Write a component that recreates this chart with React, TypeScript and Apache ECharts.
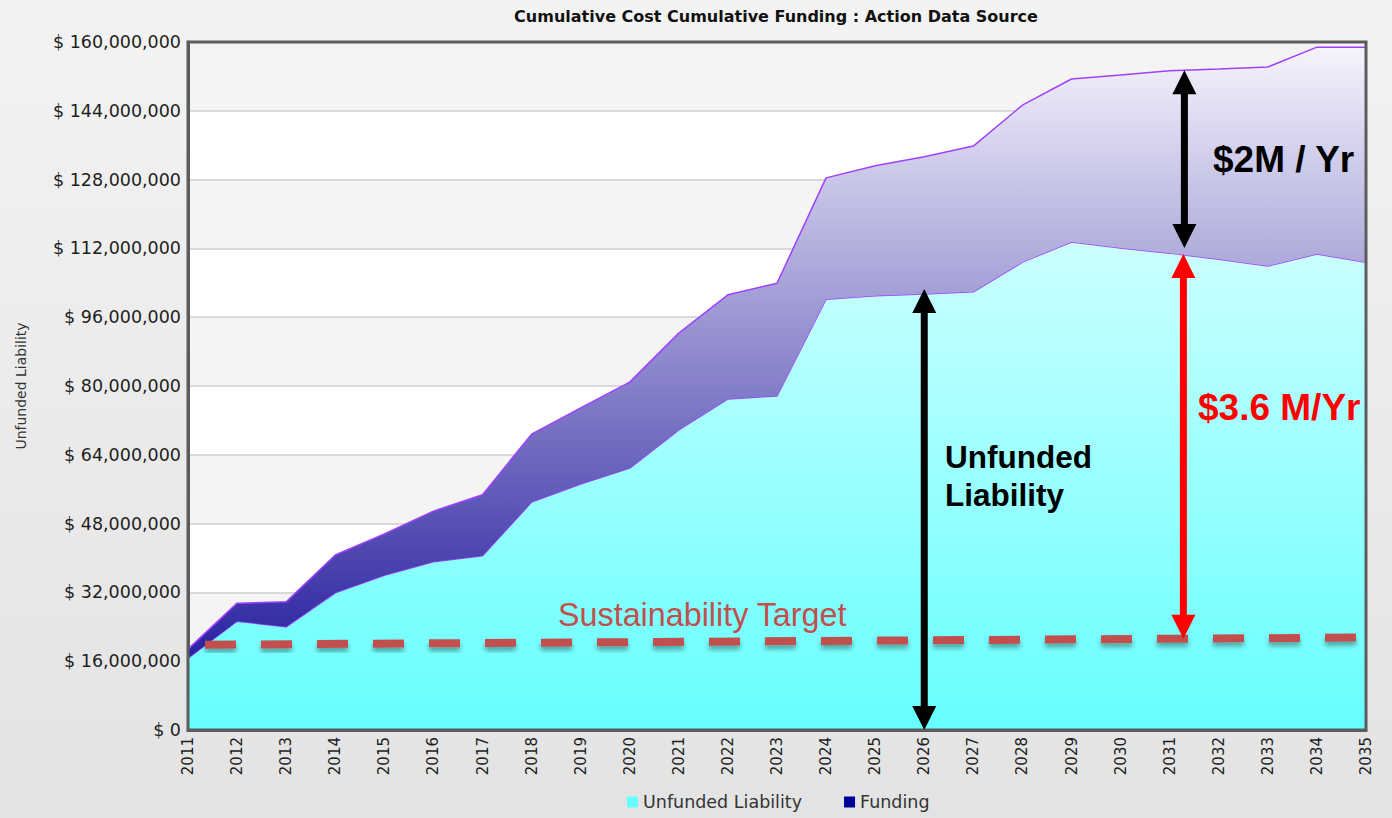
import React, { useEffect, useRef } from 'react';
import * as echarts from 'echarts';

// ---- data (values in millions of dollars) ----
const years = [
  '2011', '2012', '2013', '2014', '2015', '2016', '2017', '2018', '2019', '2020',
  '2021', '2022', '2023', '2024', '2025', '2026', '2027', '2028', '2029', '2030',
  '2031', '2032', '2033', '2034', '2035',
];
const unfundedLiability = [
  16.7, 25.3, 24.0, 31.9, 36.0, 39.1, 40.5, 53.0, 57.2, 60.9,
  69.8, 77.0, 77.7, 100.2, 101.0, 101.4, 101.9, 108.8, 113.5, 112.1,
  110.9, 109.5, 107.9, 110.7, 108.8,
];
const funding = [
  2.1, 4.2, 5.8, 8.8, 9.6, 11.8, 14.2, 15.8, 17.7, 20.0,
  22.5, 24.2, 26.2, 28.2, 30.2, 31.9, 33.9, 36.5, 37.9, 40.2,
  42.4, 44.2, 46.3, 48.1, 50.0,
];
const sustainabilityTarget = [19.8, 21.5]; // start (2011) and end (2035)
const yMax = 160;
const yStep = 16;

const MILLION = 1e6;

export default function App() {
  const ref = useRef<HTMLDivElement>(null);

  useEffect(() => {
    if (!ref.current) return;
    const chart = echarts.init(ref.current, null, { renderer: 'svg' });
    const W = 1392;
    const H = 818;
    const grid = { left: 188, right: 26, top: 42, bottom: 88 };

    const option: any = {
      animation: false,
      backgroundColor: 'transparent',
      grid: { ...grid, containLabel: false },
      legend: {
        left: 622,
        top: 788,
        icon: 'rect',
        itemWidth: 11,
        itemHeight: 11,
        itemGap: 42,
        textStyle: { fontFamily: 'DejaVu Sans', fontSize: 17.5, color: '#333333' },
        data: [
          { name: 'Unfunded Liability', itemStyle: { color: '#66ffff' } },
          { name: 'Funding', itemStyle: { color: '#000099' } },
        ],
      },
      xAxis: {
        type: 'category',
        data: years,
        boundaryGap: false,
        axisLine: { show: true, lineStyle: { color: '#5c5c5c', width: 3 } },
        axisTick: { show: false },
        axisLabel: {
          rotate: 90,
          margin: 7,
          fontFamily: 'DejaVu Sans',
          fontSize: 15,
          color: '#1e1e1e',
        },
        splitLine: { show: false },
      },
      yAxis: {
        type: 'value',
        min: 0,
        max: yMax * MILLION,
        interval: yStep * MILLION,
        name: 'Unfunded Liability',
        nameLocation: 'middle',
        nameRotate: 90,
        nameGap: 160,
        nameTextStyle: { fontFamily: 'DejaVu Sans', fontSize: 14, color: '#333333' },
        axisLine: { show: true, lineStyle: { color: '#5c5c5c', width: 3 } },
        axisTick: { show: false },
        axisLabel: {
          margin: 7,
          fontFamily: 'DejaVu Sans',
          fontSize: 17.5,
          color: '#1e1e1e',
          formatter: (v: number) => '$ ' + Math.round(v).toLocaleString('en-US'),
        },
        splitLine: { show: true, lineStyle: { color: '#cfcfcf', width: 1.5 } },
        splitArea: { show: true, areaStyle: { color: ['#ffffff', '#f4f4f4'] } },
      },
      series: [
        {
          name: 'Unfunded Liability',
          type: 'line',
          stack: 'total',
          symbol: 'none',
          data: unfundedLiability.map((v) => v * MILLION),
          lineStyle: { color: '#a040ff', width: 1.5 },
          itemStyle: { color: '#66ffff' },
          areaStyle: {
            opacity: 1,
            color: new echarts.graphic.LinearGradient(0, 0, 0, 1, [
              { offset: 0, color: '#ccffff' },
              { offset: 1, color: '#66ffff' },
            ]),
          },
          z: 2,
        },
        {
          name: 'Funding',
          type: 'line',
          stack: 'total',
          symbol: 'none',
          data: funding.map((v) => v * MILLION),
          lineStyle: { color: '#a040ff', width: 1.5 },
          itemStyle: { color: '#000099' },
          areaStyle: {
            opacity: 1,
            color: new echarts.graphic.LinearGradient(0, 0, 0, 1, [
              { offset: 0, color: '#f5f4fc' },
              { offset: 1, color: '#2a22a0' },
            ]),
          },
          z: 3,
        },
        {
          name: 'Sustainability Target',
          type: 'line',
          data: [],
          z: 5,
          markLine: {
            silent: true,
            symbol: ['none', 'none'],
            label: { show: false },
            lineStyle: {
              color: '#c0504d',
              width: 8,
              type: [31, 25],
              dashOffset: 39,
              cap: 'butt',
              shadowColor: 'rgba(0,0,0,0.35)',
              shadowBlur: 5,
              shadowOffsetY: 4,
            },
            data: [
              [
                { coord: [years[0], sustainabilityTarget[0] * MILLION] },
                { coord: [years[years.length - 1], sustainabilityTarget[1] * MILLION] },
              ],
            ],
          },
        },
      ],
    };
    chart.setOption(option);

    // ---- annotations anchored to data through the chart's own scales ----
    const lerp = (arr: number[], i: number) => {
      const i0 = Math.floor(i);
      const f = i - i0;
      if (f === 0 || i0 + 1 >= arr.length) return arr[i0];
      return arr[i0] + f * (arr[i0 + 1] - arr[i0]);
    };
    const toPx = (i: number, vM: number): number[] => {
      const i0 = Math.floor(i);
      const f = i - i0;
      const a = chart.convertToPixel({ gridIndex: 0 }, [i0, vM * MILLION]) as number[];
      if (f === 0) return a;
      const b = chart.convertToPixel({ gridIndex: 0 }, [i0 + 1, vM * MILLION]) as number[];
      return [a[0] + f * (b[0] - a[0]), a[1]];
    };
    const total = unfundedLiability.map((u, k) => u + funding[k]);
    const targetAt = (i: number) =>
      sustainabilityTarget[0] + ((sustainabilityTarget[1] - sustainabilityTarget[0]) * i) / (years.length - 1);

    const arrow = (x: number, y1: number, y2: number, color: string) => [
      {
        type: 'line',
        z: 100,
        shape: { x1: x, y1: y1 + 20, x2: x, y2: y2 - 20 },
        style: { stroke: color, lineWidth: 7 },
      },
      {
        type: 'polygon',
        z: 100,
        shape: { points: [[x, y1], [x - 12, y1 + 24], [x + 12, y1 + 24]] },
        style: { fill: color },
      },
      {
        type: 'polygon',
        z: 100,
        shape: { points: [[x, y2], [x - 12, y2 - 24], [x + 12, y2 - 24]] },
        style: { fill: color },
      },
    ];

    const iUnf = 15; // 2026
    const [ax1, ay1] = toPx(iUnf, unfundedLiability[iUnf]);
    const [, ay1b] = toPx(iUnf, 0);
    const iRate = 20.3; // a bit after 2031
    const [ax2, ayTop] = toPx(iRate, lerp(total, iRate));
    const [, ayMid] = toPx(iRate, lerp(unfundedLiability, iRate));
    const [, ayTarget] = toPx(iRate, targetAt(iRate));

    const plotW = W - grid.left - grid.right;
    const plotH = H - grid.top - grid.bottom;

    chart.setOption({
      graphic: [
        {
          type: 'rect',
          z: 90,
          shape: { x: grid.left, y: grid.top, width: plotW, height: plotH },
          style: { fill: 'none', stroke: '#5c5c5c', lineWidth: 3 },
        },
        {
          type: 'text',
          z: 100,
          x: grid.left + plotW / 2 - 1,
          y: 16,
          style: {
            text: 'Cumulative Cost Cumulative Funding : Action Data Source',
            fontFamily: 'DejaVu Sans',
            fontWeight: 'bold',
            fontSize: 16,
            fill: '#111111',
            align: 'center',
            verticalAlign: 'middle',
          },
        },
        {
          type: 'text',
          z: 100,
          x: 558,
          y: 615,
          style: {
            text: 'Sustainability Target',
            fontFamily: 'Liberation Sans',
            fontSize: 32.3,
            fill: '#c0504d',
            align: 'left',
            verticalAlign: 'middle',
          },
        },
        {
          type: 'text',
          z: 100,
          x: 945,
          y: 457,
          style: {
            text: 'Unfunded',
            fontFamily: 'Liberation Sans',
            fontWeight: 'bold',
            fontSize: 31.5,
            fill: '#000000',
            align: 'left',
            verticalAlign: 'middle',
          },
        },
        {
          type: 'text',
          z: 100,
          x: 945,
          y: 495,
          style: {
            text: 'Liability',
            fontFamily: 'Liberation Sans',
            fontWeight: 'bold',
            fontSize: 31.5,
            fill: '#000000',
            align: 'left',
            verticalAlign: 'middle',
          },
        },
        {
          type: 'text',
          z: 100,
          x: 1213,
          y: 159,
          style: {
            text: '$2M / Yr',
            fontFamily: 'Liberation Sans',
            fontWeight: 'bold',
            fontSize: 37,
            fill: '#000000',
            align: 'left',
            verticalAlign: 'middle',
          },
        },
        {
          type: 'text',
          z: 100,
          x: 1198,
          y: 407,
          style: {
            text: '$3.6 M/Yr',
            fontFamily: 'Liberation Sans',
            fontWeight: 'bold',
            fontSize: 37,
            fill: '#ff0000',
            align: 'left',
            verticalAlign: 'middle',
          },
        },
        ...arrow(ax1, ay1 - 5, ay1b, '#000000'),
        ...arrow(ax2, ayTop, ayMid - 7, '#000000'),
        ...arrow(ax2 - 1, ayMid - 1, ayTarget, '#ff0000'),
      ],
    });

    return () => chart.dispose();
  }, []);

  return (
    <div
      ref={ref}
      style={{
        position: 'fixed',
        left: 0,
        top: 0,
        width: 1392,
        height: 818,
        background: 'linear-gradient(#f3f3f3, #e3e3e3)',
      }}
    />
  );
}
